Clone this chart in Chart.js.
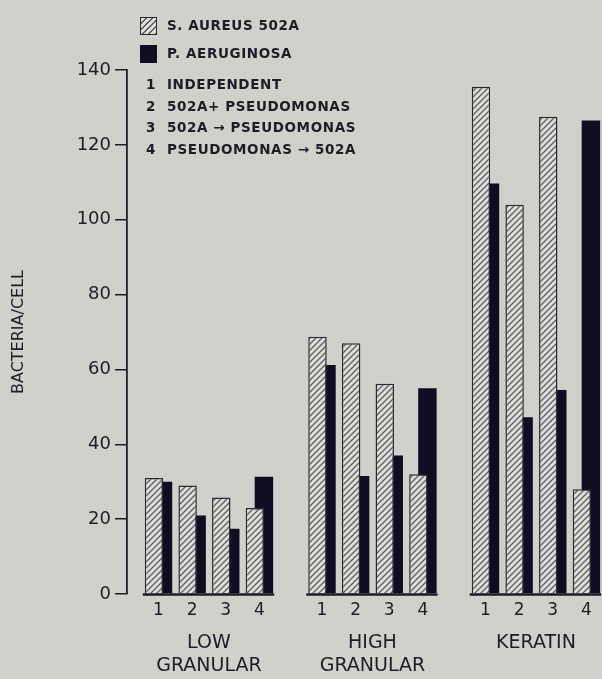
<!DOCTYPE html>
<html>
<head>
<meta charset="utf-8">
<script src="https://cdn.jsdelivr.net/npm/chart.js@4.4.0/dist/chart.umd.min.js"></script>
<style>
    body { margin: 0; background: #cfd2cb; }
    #wrap { position: relative; width: 602px; height: 679px; }
    #legend { position: absolute; left: 0; top: 0; font-family: "DejaVu Sans", sans-serif; font-weight: bold;
              font-size: 13.5px; color: #1d1d28; letter-spacing: 0.6px; }
    .row { position: absolute; height: 20px; line-height: 20px; white-space: nowrap; }
    .swatch { position: absolute; left: 140px; width: 17px; height: 18px; box-sizing: border-box; }
    .hatch { border: 1.5px solid #2b2b35;
             background: repeating-linear-gradient(135deg, #dcded8 0 3px, #5b5b62 3px 4.4px); }
    .solid { background: #100c22; }
    .num { position: absolute; left: 146px; }
    .txt { position: absolute; left: 167px; }
</style>
</head>
<body>
<div id="wrap">
    <canvas id="chart" width="602" height="679"></canvas>
    <div id="legend"></div>
</div>
<script>
// data
const groupNames = [['LOW', 'GRANULAR'], ['HIGH', 'GRANULAR'], ['KERATIN']];
const conditionLabels = ['1', '2', '3', '4'];
const conditionNames = ['INDEPENDENT', '502A+ PSEUDOMONAS', '502A \u2192 PSEUDOMONAS', 'PSEUDOMONAS \u2192 502A'];
const seriesNames = ['S. AUREUS 502A', 'P. AERUGINOSA'];
const aureusValues = [31, 29, 25.8, 23, 68.7, 67, 56.2, 32, 135.5, 104, 127.5, 28];
const aeruginosaValues = [30, 21, 17.4, 31.3, 61.2, 31.5, 37, 55, 109.7, 47.2, 54.5, 126.5];
const yMax = 140;
const yStep = 20;

const GROUP_STEP = 4.86; // distance between first pairs of neighbouring groups
const ink = '#1d1d28';

function slotOf(i) {
    return Math.floor(i / conditionLabels.length) * GROUP_STEP + (i % conditionLabels.length);
}

const pairSlots = aureusValues.map((v, i) => slotOf(i));
const groupCenters = groupNames.map((g, i) => i * GROUP_STEP + (conditionLabels.length - 1) / 2);

function makeHatch() {
    const c = document.createElement('canvas');
    c.width = 6;
    c.height = 6;
    const g = c.getContext('2d');
    g.fillStyle = '#dcded8';
    g.fillRect(0, 0, 6, 6);
    g.strokeStyle = '#5e5e64';
    g.lineWidth = 1.3;
    g.beginPath();
    g.moveTo(-1, 7); g.lineTo(7, -1);
    g.moveTo(-1, 1); g.lineTo(1, -1);
    g.moveTo(5, 7); g.lineTo(7, 5);
    g.stroke();
    return g.createPattern(c, 'repeat');
}

// legend
function buildLegend() {
    const legend = document.getElementById('legend');
    let html = '';
    html += `<div class="swatch hatch" style="top:17px"></div><div class="row txt" style="top:15px">${seriesNames[0]}</div>`;
    html += `<div class="swatch solid" style="top:45px"></div><div class="row txt" style="top:43px">${seriesNames[1]}</div>`;
    const rowTops = [74, 96, 117, 139];
    conditionNames.forEach((name, i) => {
        html += `<div class="row num" style="top:${rowTops[i]}px">${conditionLabels[i]}</div>`;
        html += `<div class="row txt" style="top:${rowTops[i]}px">${name}</div>`;
    });
    legend.innerHTML = html;
}

// baseline under every group
const groupBaselines = {
    id: 'groupBaselines',
    afterDatasetsDraw(chart) {
        const ctx = chart.ctx;
        const front = chart.getDatasetMeta(0).data;
        const back = chart.getDatasetMeta(1).data;
        const y = chart.scales.y.getPixelForValue(0) + 0.5;
        const n = conditionLabels.length;
        ctx.save();
        ctx.strokeStyle = ink;
        ctx.lineWidth = 2.5;
        groupNames.forEach((g, gi) => {
            const first = front[gi * n];
            const last = back[gi * n + n - 1];
            ctx.beginPath();
            ctx.moveTo(first.x - first.width / 2 - 2, y);
            ctx.lineTo(last.x + last.width / 2 + 1, y);
            ctx.stroke();
        });
        ctx.restore();
    }
};

buildLegend();

const ctx = document.getElementById('chart').getContext('2d');
new Chart(ctx, {
    type: 'bar',
    data: {
        datasets: [
            {
                label: seriesNames[0],
                data: aureusValues.map((v, i) => ({ x: pairSlots[i], y: v })),
                backgroundColor: makeHatch(),
                borderColor: '#2b2b35',
                borderWidth: 1.5,
                borderSkipped: 'start'
            },
            {
                label: seriesNames[1],
                data: aeruginosaValues.map((v, i) => ({ x: pairSlots[i], y: v })),
                backgroundColor: '#100c22',
                borderWidth: 0
            }
        ]
    },
    options: {
        responsive: false,
        animation: false,
        categoryPercentage: 0.535,
        barPercentage: 2.05,
        layout: { padding: { top: 70, right: 1, left: 0, bottom: 0 } },
        plugins: { legend: { display: false }, tooltip: { enabled: false } },
        scales: {
            x: {
                type: 'linear',
                position: 'bottom',
                weight: 0,
                offset: false,
                min: -0.936,
                max: 13.154,
                grid: { display: false, drawTicks: false },
                border: { display: false },
                afterBuildTicks: scale => { scale.ticks = pairSlots.map(v => ({ value: v })); },
                afterFit: scale => { scale.height = 30; },
                ticks: {
                    autoSkip: false,
                    maxRotation: 0,
                    padding: 6,
                    color: ink,
                    font: { family: 'DejaVu Sans', size: 17 },
                    callback: (value, index) => conditionLabels[index % conditionLabels.length]
                }
            },
            x2: {
                type: 'linear',
                position: 'bottom',
                weight: 1,
                offset: false,
                min: -0.936,
                max: 13.154,
                grid: { display: false, drawTicks: false },
                border: { display: false },
                afterBuildTicks: scale => { scale.ticks = groupCenters.map(v => ({ value: v })); },
                afterFit: scale => { scale.height = 55; },
                ticks: {
                    autoSkip: false,
                    maxRotation: 0,
                    padding: 8,
                    color: ink,
                    font: { family: 'DejaVu Sans', size: 19, lineHeight: 1.2 },
                    callback: (value, index) => groupNames[index]
                }
            },
            y: {
                min: 0,
                max: yMax,
                afterFit: scale => { scale.width = 127; },
                border: { display: true, color: ink, width: 1.8 },
                grid: { drawOnChartArea: false, drawTicks: true, tickLength: 12, color: ink, lineWidth: 1.5 },
                ticks: {
                    stepSize: yStep,
                    padding: 4,
                    color: ink,
                    font: { family: 'DejaVu Sans', size: 18 }
                },
                title: {
                    display: true,
                    text: 'BACTERIA/CELL',
                    color: ink,
                    padding: { top: 9, bottom: 0 },
                    font: { family: 'DejaVu Sans', size: 16 }
                }
            }
        }
    },
    plugins: [groupBaselines]
});
</script>
</body>
</html>
